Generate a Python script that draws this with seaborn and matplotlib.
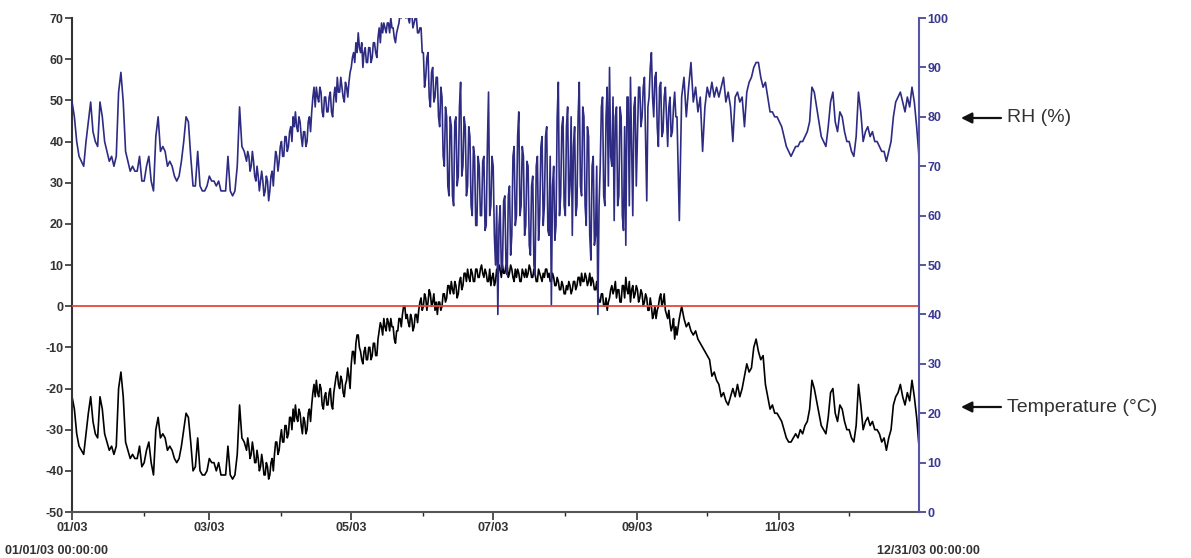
import pandas as pd
import numpy as np
import matplotlib.pyplot as plt
import matplotlib.dates as mdates
import seaborn as sns

# ---------------- style ----------------
sns.set_style('white')
plt.rcParams['font.family'] = ['Liberation Sans', 'DejaVu Sans']
plt.rcParams['font.weight'] = 'bold'
plt.rcParams['axes.unicode_minus'] = False

# ---------------- data (2003) ----------------
start_date = '2003-01-01'

# one reading per day at 00:00
temperature = [
    # Jan
    -22, -25, -31, -34, -35, -36, -31, -26, -22, -28, -31, -32, -22, -25, -31, -33,
    -35, -34, -36, -34, -20, -16, -22, -33, -35, -37, -36, -37, -37, -34, -39,
    # Feb
    -38, -35, -33, -38, -41, -30, -27, -32, -31, -32, -35, -34, -35, -37, -38, -37,
    -34, -30, -26, -27, -33, -40, -39, -32, -40, -41, -41, -40,
    # Mar
    -37, -38, -38, -40, -38, -41, -41, -41, -34, -41, -42, -41, -36, -24, -32, -33,
    -35, -34, -36, -35, -38, -37, -39, -38, -41, -39, -41, -37, -36, -33, -35,
    # Apr
    -30, -33, -29, -31, -27, -25, -24, -28, -26, -31, -28, -30, -25, -24, -19, -18,
    -22, -20, -25, -21, -24, -20, -25, -19, -16, -20, -18, -22, -18, -17,
    # May
    -14, -11, -9, -7, -11, -14, -10, -13, -10, -12, -9, -12, -6, -5, -3, -6,
    -4, -3, -5, -9, -6, -3, -2, 0, -2, -5, -3, -5, -2, -1, 2,
    # Jun
    0, 2, 1, 3, 1, -1, -2, 1, 0, 3, 2, 5, 6, 3, 5, 3,
    7, 5, 8, 9, 6, 8, 6, 9, 7, 10, 7, 8, 6, 5,
    # Jul
    8, 6, 7, 9, 10, 8, 10, 8, 9, 6, 7, 8, 6, 8, 9, 8,
    9, 7, 8, 6, 8, 6, 7, 9, 8, 6, 7, 5, 6, 4, 5,
    # Aug
    3, 4, 5, 4, 6, 5, 7, 8, 6, 7, 6, 5, 6, 4, 3, 1,
    3, 0, -1, 2, 5, 4, 2, 4, 1, 5, 7, 3, 1, 5, 3,
    # Sep
    4, 2, 3, 1, 2, -1, 0, -2, -3, 0, 3, 1, -1, -3, -4, -5,
    -8, -7, -3, 0, -3, -5, -4, -6, -7, -6, -8, -9, -10, -11,
    # Oct
    -12, -13, -17, -16, -18, -19, -22, -21, -23, -24, -22, -20, -22, -19, -22, -20,
    -17, -14, -16, -15, -10, -8, -11, -13, -12, -19, -22, -25, -24, -26, -26,
    # Nov
    -27, -28, -30, -32, -33, -33, -32, -31, -32, -30, -31, -29, -28, -25, -18, -20,
    -23, -26, -29, -30, -31, -27, -21, -20, -26, -28, -24, -25, -28, -30,
    # Dec
    -30, -32, -33, -29, -19, -24, -30, -28, -27, -29, -28, -30, -30, -31, -33, -32,
    -35, -32, -30, -24, -22, -21, -19, -22, -24, -21, -23, -18, -22, -27, -34,
]

rh = [
    # Jan
    83, 80, 75, 72, 71, 70, 75, 79, 83, 77, 75, 74, 83, 80, 75, 73,
    71, 72, 70, 72, 85, 89, 83, 73, 71, 69, 70, 69, 69, 72, 67,
    # Feb
    67, 70, 72, 67, 65, 76, 80, 73, 74, 73, 70, 71, 70, 68, 67, 68,
    71, 75, 80, 79, 72, 66, 66, 73, 66, 65, 65, 66,
    # Mar
    68, 67, 67, 66, 67, 65, 65, 65, 72, 65, 64, 65, 70, 82, 74, 73,
    71, 72, 70, 71, 67, 68, 67, 67, 65, 67, 65, 69, 70, 72, 71,
    # Apr
    75, 72, 76, 74, 78, 80, 81, 77, 79, 74, 77, 75, 80, 81, 86, 86,
    83, 85, 80, 84, 81, 85, 80, 86, 88, 85, 86, 83, 86, 87,
    # May
    90, 93, 95, 97, 93, 90, 94, 91, 94, 92, 95, 92, 98, 99, 99, 97,
    99, 100, 98, 95, 98, 101, 102, 103, 102, 99, 101, 99, 100, 97, 98,
    # Jun
    93, 88, 93, 82, 90, 84, 88, 78, 84, 70, 80, 64, 78, 62, 80, 68,
    87, 70, 78, 66, 76, 60, 72, 58, 70, 60, 72, 58, 85, 62,
    # Jul
    70, 50, 40, 62, 50, 64, 48, 66, 56, 74, 60, 81, 62, 72, 58, 70,
    52, 68, 48, 72, 60, 76, 62, 78, 56, 42, 70, 58, 87, 64, 80,
    # Aug
    60, 82, 66, 56, 78, 62, 87, 64, 80, 58, 76, 51, 72, 56, 40, 70,
    84, 62, 86, 90, 70, 59, 82, 64, 80, 57, 54, 84, 88, 60, 84,
    # Sep
    76, 86, 80, 88, 63, 84, 93, 80, 89, 74, 87, 77, 86, 74, 84, 77,
    85, 80, 59, 84, 88, 80, 86, 91, 83, 86, 81, 84, 73, 82,
    # Oct
    86, 84, 87, 84, 86, 84, 86, 88, 83, 85, 82, 75, 84, 85, 83, 84,
    78, 85, 87, 88, 90, 91, 91, 88, 86, 87, 84, 81, 81, 80, 80,
    # Nov
    79, 78, 76, 74, 73, 72, 73, 74, 74, 75, 75, 76, 77, 79, 86, 85,
    82, 79, 76, 75, 74, 78, 83, 85, 79, 77, 81, 80, 77, 75,
    # Dec
    75, 73, 72, 76, 85, 81, 75, 77, 78, 76, 77, 75, 75, 74, 73, 73,
    71, 73, 75, 80, 83, 84, 85, 83, 81, 84, 82, 86, 83, 78, 72,
]

# extra 12:00 readings for the noisy spring/summer stretch (day 75 .. day 259)
noon_first_day = 75
temperature_noon = [
    -32, -37, -33, -38, -35, -40, -36, -41, -38, -42, -38, -40, -33, -36, -32,
    -33, -29, -32, -27, -30, -28, -27, -25, -29, -27, -31, -26, -28, -21, -22,
    -21, -19, -24, -22, -24, -21, -24, -21, -17, -19, -17, -21, -19, -15, -20,
    -11, -14, -7, -10, -13, -11, -13, -10, -13, -9, -12, -8, -4, -7, -5, -3,
    -6, -5, -8, -6, -3, -5, 0, -3, -4, -2, -6, -2, -4, 1, -1,
    3, -1, 4, 0, 3, 1, 1, -1, 3, 1, 5, 3, 4, 6, 2, 6, 4, 8, 6, 7, 9, 6, 9, 7,
    9, 8, 9, 6, 9, 7,
    5, 9, 10, 7, 8, 10, 7, 10, 7, 9, 9, 6, 9, 7, 7, 10, 7, 9, 6, 9, 7, 8, 9, 7,
    6, 8, 5, 7, 4, 6, 3,
    5, 6, 3, 6, 4, 7, 5, 6, 8, 5, 8, 7, 4, 6, 1, 3, 0, 2, 1, 4, 3, 6, 4, 1,
    5, 2, 4, 6, 4, 2, 5,
    1, 4, 0, 3, -1, 2, -3, 0, -1, 2, 0, 3, -2, -1, -6, -3, -5,
]

rh_noon = [
    73, 69, 73, 68, 70, 65, 69, 64, 68, 63, 68, 66, 73, 69, 74,
    72, 76, 73, 77, 75, 78, 78, 80, 76, 77, 74, 79, 77, 84, 82,
    84, 86, 81, 84, 81, 84, 81, 84, 83, 85, 88, 84, 87, 84, 89,
    92, 91, 93, 94, 95, 93, 91, 94, 91, 95, 93, 96, 95, 97, 98,
    99, 97, 98, 96, 97, 99, 100, 101, 100, 100, 101, 98, 100, 97, 98,
    93,
    86, 92, 84, 89, 83, 88, 80, 86, 72, 82, 66, 80, 64, 79, 66,
    82, 68, 80, 64, 78, 62, 74, 58, 72, 60, 71, 57, 74, 60, 72,
    56, 62, 58, 49, 63, 50, 64, 52, 72, 58, 76, 60, 74, 56, 71, 54,
    66, 50, 70, 55, 74, 58, 76, 57, 72, 66, 55, 80, 60, 78, 62,
    78, 62, 80, 74, 60, 80, 66, 82, 62, 78, 56, 70, 54, 70, 62, 82,
    64, 80, 66, 72, 84, 80, 62, 82, 60, 78, 84, 62, 74, 82, 66,
    86, 78, 86, 76, 82, 90, 84, 88, 78, 86, 76, 84, 80, 82, 76, 82, 80,
]

dates = pd.date_range(start_date, periods=len(temperature), freq='D')
noon_dates = dates[noon_first_day:noon_first_day + len(temperature_noon)] + pd.Timedelta(hours=12)

df = pd.concat([
    pd.DataFrame({'date': dates, 'temperature': temperature, 'rh': rh}),
    pd.DataFrame({'date': noon_dates, 'temperature': temperature_noon, 'rh': rh_noon}),
]).sort_values('date').reset_index(drop=True)

# ---------------- figure ----------------
fig = plt.figure(figsize=(11.91, 5.58), dpi=100)
ax = fig.add_axes([0.0605, 0.0824, 0.7111, 0.8853])

sns.lineplot(data=df, x='date', y='temperature', ax=ax, color='black', lw=1.2)
ax.axhline(0, color='#e5473d', lw=1.3, zorder=3)

ax.set_xlim(dates[0], dates[-1])
ax.set_ylim(-50, 70)
ax.set_yticks(np.arange(-50, 71, 10))
ax.set_xlabel('')
ax.set_ylabel('')

ax.xaxis.set_major_locator(mdates.MonthLocator(bymonth=[1, 3, 5, 7, 9, 11]))
ax.xaxis.set_minor_locator(mdates.MonthLocator(bymonth=[2, 4, 6, 8, 10, 12]))
ax.xaxis.set_major_formatter(mdates.DateFormatter('%m/%y'))

ax.tick_params(axis='y', direction='out', length=5, width=1.2, labelsize=9,
               colors='#333333', pad=1, left=True)
ax.tick_params(axis='x', which='major', direction='out', length=6, width=1.2,
               labelsize=9, colors='#333333', pad=1, bottom=True)
ax.tick_params(axis='x', which='minor', direction='out', length=3, width=1.0,
               bottom=True)

for side in ['top', 'right']:
    ax.spines[side].set_visible(False)
ax.spines['left'].set_color('#333333')
ax.spines['left'].set_linewidth(1.5)
ax.spines['bottom'].set_color('#555555')
ax.spines['bottom'].set_linewidth(1.5)

# RH on the right axis
ax2 = ax.twinx()
sns.lineplot(data=df, x='date', y='rh', ax=ax2, color='#2d2b82', lw=1.2)
ax2.set_ylim(0, 100)
ax2.set_yticks(np.arange(0, 101, 10))
ax2.set_ylabel('')
ax2.set_xlim(dates[0], dates[-1])
ax2.tick_params(axis='y', direction='out', length=5, width=1.2, labelsize=9,
                colors='#3a3890', pad=1)
for side in ['top', 'left', 'bottom']:
    ax2.spines[side].set_visible(False)
ax2.spines['right'].set_color('#5555aa')
ax2.spines['right'].set_linewidth(1.5)

# date range labels under the axis
fig.text(5 / 1191, 1 - 551 / 558, '01/01/03 00:00:00', ha='left', va='center',
         fontsize=9, color='#333333')
fig.text(980 / 1191, 1 - 551 / 558, '12/31/03 00:00:00', ha='right', va='center',
         fontsize=9, color='#333333')

# arrows with series labels
for label, ypix in [('RH (%)', 118), ('Temperature (°C)', 407)]:
    y = 558 - ypix
    ax.annotate('', xy=(961, y), xytext=(1001, y), xycoords='figure pixels',
                textcoords='figure pixels',
                arrowprops=dict(arrowstyle='-|>', color='#111111', lw=1.6,
                                mutation_scale=16, shrinkA=0, shrinkB=0),
                annotation_clip=False)
    fig.text(1007 / 1191, y / 558, label, ha='left', va='center', fontsize=14,
             fontweight='normal', color='#333333')

fig.savefig('out.png', dpi=100)
